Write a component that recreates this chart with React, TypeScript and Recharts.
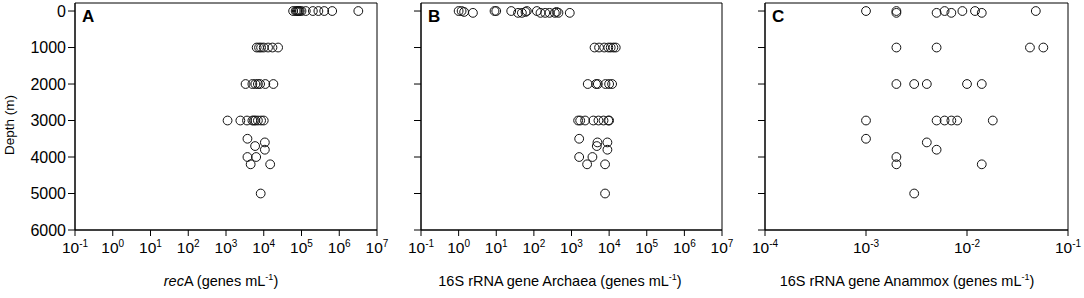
import React from "react";
import { ScatterChart, Scatter, XAxis, YAxis, ReferenceArea } from "recharts";

// depth (m) and gene abundance (genes mL-1)
const recADepth = [
  0, 0, 0, 0, 0, 0, 0, 0, 0, 0, 0, 0, 0,
  1000, 1000, 1000, 1000, 1000, 1000, 1000,
  2000, 2000, 2000, 2000, 2000, 2000, 2000,
  3000, 3000, 3000, 3000, 3000, 3000, 3000, 3000, 3000,
  3500, 3600, 3700, 3800, 4000, 4000, 4200, 4200, 5000,
];
const recAValue = [
  6e4, 7e4, 7.5e4, 8e4, 8.5e4, 9e4, 1e5, 1.3e5, 2e5, 2.8e5, 4e5, 6.5e5, 3.2e6,
  6.5e3, 7.5e3, 8.5e3, 1e4, 1.3e4, 1.7e4, 2.4e4,
  3.3e3, 5e3, 6e3, 7e3, 8e3, 1.1e4, 1.8e4,
  1.1e3, 2.4e3, 3.6e3, 5e3, 5.5e3, 6e3, 7e3, 8.5e3, 1e4,
  3.7e3, 1.07e4, 5.9e3, 1.07e4, 3.7e3, 6.3e3, 4.5e3, 1.48e4, 8.3e3,
];

const archaeaDepth = [
  0, 0, 25, 50, 0, 0, 0, 50, 50, 25, 0, 0, 50, 50, 50, 50, 25, 50, 50,
  1000, 1000, 1000, 1000, 1000, 1000, 1000,
  2000, 2000, 2000, 2000, 2000, 2000,
  3000, 3000, 3000, 3000, 3000, 3000, 3000, 3000,
  3500, 3600, 3600, 3700, 3800, 4000, 4000, 4200, 4200, 5000,
];
const archaeaValue = [
  1.0, 1.2, 1.4, 2.4, 9, 10, 25, 38, 48, 60, 65, 120, 150, 200, 260, 360, 400, 450, 900,
  4.1e3, 5.4e3, 7.4e3, 9.5e3, 1.1e4, 1.3e4, 1.5e4,
  2.7e3, 4.5e3, 5e3, 8e3, 1e4, 1.2e4,
  1.5e3, 1.7e3, 2.3e3, 3.8e3, 5.2e3, 7.1e3, 9.5e3, 1e4,
  1.6e3, 4.9e3, 9e3, 4.7e3, 9e3, 1.6e3, 3.6e3, 2.6e3, 7.8e3, 7.8e3,
];

const anammoxDepth = [
  0, 0, 50, 50, 0, 50, 0, 0, 50, 0,
  1000, 1000, 1000, 1000,
  2000, 2000, 2000, 2000, 2000,
  3000, 3000, 3000, 3000, 3000, 3000,
  3500, 3600, 3800, 4000, 4200, 4200, 5000,
];
const anammoxValue = [
  1e-3, 2e-3, 2e-3, 5e-3, 6e-3, 7e-3, 9e-3, 1.2e-2, 1.4e-2, 4.8e-2,
  2e-3, 5e-3, 4.2e-2, 5.7e-2,
  2e-3, 3e-3, 4e-3, 1e-2, 1.4e-2,
  1e-3, 5e-3, 6e-3, 7e-3, 8e-3, 1.8e-2,
  1e-3, 4e-3, 5e-3, 2e-3, 2e-3, 1.4e-2, 3e-3,
];

const depthTicks = [0, 1000, 2000, 3000, 4000, 5000, 6000];
const wideTicks = [1e-1, 1e0, 1e1, 1e2, 1e3, 1e4, 1e5, 1e6, 1e7];
const anammoxTicks = [1e-4, 1e-3, 1e-2, 1e-1];

const FONT = "'Liberation Sans', Arial, sans-serif";
const W = 1084;
const H = 298;
const depthDomain = [-220, 6000];

const toPoints = (depth: number[], value: number[]) =>
  depth.map((d, i) => ({ depth: d, value: value[i] }));

const PowerTick = (props: any) => {
  const { x, y, payload } = props;
  const exp = Math.round(Math.log10(payload.value));
  return (
    <text x={x} y={y + 15} textAnchor="middle" fontSize={15.5} fontFamily={FONT} fill="#000">
      <tspan>10</tspan>
      <tspan dy={-6} fontSize={10}>{exp}</tspan>
    </text>
  );
};

const Ring = (props: any) => (
  <circle cx={props.cx} cy={props.cy} r={4.4} fill="none" stroke="#111" strokeWidth={1} />
);

const NoTick = () => <g />;

type PanelProps = {
  plotLeft: number;
  plotRight: number;
  yWidth: number;
  letter: string;
  points: { depth: number; value: number }[];
  xDomain: number[];
  xTicks: number[];
  showDepth: boolean;
};

// every panel is a full-size svg stacked on the others, so tick labels never get clipped
function Panel({ plotLeft, plotRight, yWidth, letter, points, xDomain, xTicks, showDepth }: PanelProps) {
  return (
    <div style={{ position: "absolute", left: 0, top: 0 }}>
      <ScatterChart
        width={W}
        height={H}
        margin={{ top: 3, right: W - plotRight, bottom: 0, left: plotLeft - yWidth }}
      >
        <XAxis
          type="number"
          dataKey="value"
          scale="log"
          domain={xDomain}
          ticks={xTicks}
          interval={0}
          allowDataOverflow
          height={68}
          stroke="#000"
          tickSize={6}
          tick={<PowerTick />}
        />
        <YAxis
          type="number"
          dataKey="depth"
          reversed
          domain={depthDomain}
          ticks={depthTicks}
          interval={0}
          allowDataOverflow
          width={yWidth}
          stroke="#000"
          tickSize={7}
          tickMargin={2}
          tick={showDepth ? { fill: "#000", fontSize: 16, fontFamily: FONT } : <NoTick />}
        />
        <ReferenceArea
          x1={xDomain[0]}
          x2={xDomain[1]}
          y1={depthDomain[0]}
          y2={depthDomain[1]}
          fill="none"
          stroke="#000"
          strokeWidth={1}
          label={{
            value: letter,
            position: "insideTopLeft",
            offset: 7,
            style: { fontWeight: 700, fontSize: 17, fontFamily: FONT, fill: "#000" },
          }}
        />
        <Scatter data={points} shape={<Ring />} isAnimationActive={false} />
      </ScatterChart>
    </div>
  );
}

const titleStyle: React.CSSProperties = {
  position: "absolute",
  top: 272,
  fontFamily: FONT,
  fontSize: 14.5,
  whiteSpace: "nowrap",
  transform: "translateX(-50%)",
  color: "#000",
};

export default function App() {
  return (
    <div style={{ position: "absolute", left: 0, top: 0, width: W, height: H, background: "#fff" }}>
      <Panel plotLeft={75} plotRight={377} yWidth={75} letter="A"
        points={toPoints(recADepth, recAValue)} xDomain={[1e-1, 1e7]} xTicks={wideTicks} showDepth />
      <Panel plotLeft={421} plotRight={722} yWidth={41} letter="B"
        points={toPoints(archaeaDepth, archaeaValue)} xDomain={[1e-1, 1e7]} xTicks={wideTicks} showDepth={false} />
      <Panel plotLeft={765} plotRight={1068} yWidth={40} letter="C"
        points={toPoints(anammoxDepth, anammoxValue)} xDomain={[1e-4, 1e-1]} xTicks={anammoxTicks} showDepth={false} />

      <div
        style={{
          position: "absolute",
          left: 9,
          top: 125,
          fontFamily: FONT,
          fontSize: 13.5,
          whiteSpace: "nowrap",
          transform: "translate(-50%, -50%) rotate(-90deg)",
        }}
      >
        Depth (m)
      </div>
      <div style={{ ...titleStyle, left: 221 }}>
        <i>rec</i>A (genes mL<sup style={{ fontSize: 9 }}>-1</sup>)
      </div>
      <div style={{ ...titleStyle, left: 560 }}>
        16S rRNA gene Archaea (genes mL<sup style={{ fontSize: 9 }}>-1</sup>)
      </div>
      <div style={{ ...titleStyle, left: 907 }}>
        16S rRNA gene Anammox (genes mL<sup style={{ fontSize: 9 }}>-1</sup>)
      </div>
    </div>
  );
}
